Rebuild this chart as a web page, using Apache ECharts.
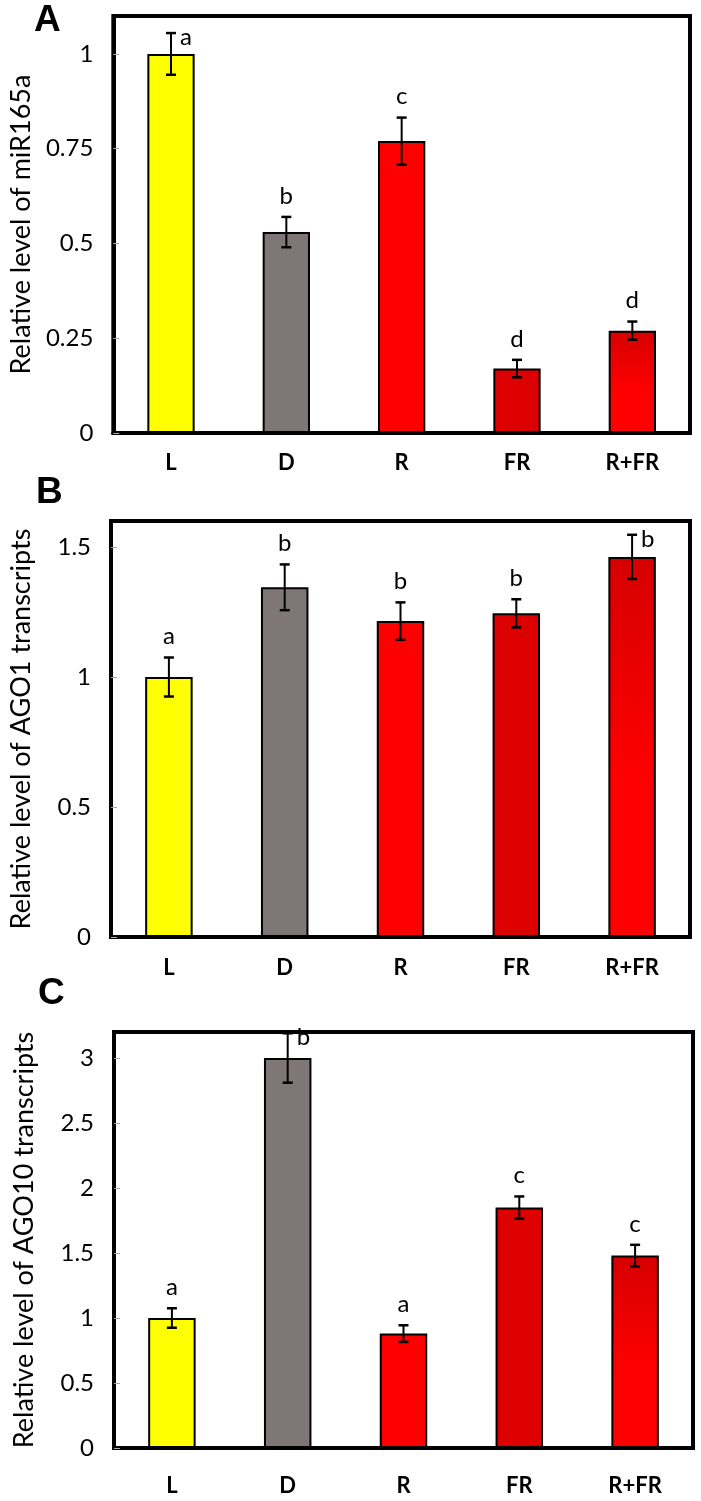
<!DOCTYPE html>
<html><head><meta charset="utf-8">
<script src="https://cdn.jsdelivr.net/npm/echarts@6/dist/echarts.min.js"></script>
<style>html,body{margin:0;padding:0;background:#fff}#c{width:701px;height:1501px}</style>
</head><body><div id="c"></div>
<script>
// ---- data ----
const categories = ['L', 'D', 'R', 'FR', 'R+FR'];

const miR165a = [1.0, 0.53, 0.77, 0.17, 0.27];
const miR165aErr = [0.055, 0.04, 0.062, 0.023, 0.024];
const miR165aLetters = ['a', 'b', 'c', 'd', 'd'];

const ago1 = [1.0, 1.345, 1.215, 1.245, 1.462];
const ago1Err = [0.075, 0.088, 0.072, 0.054, 0.085];
const ago1Letters = ['a', 'b', 'b', 'b', 'b'];

const ago10 = [1.0, 3.0, 0.88, 1.85, 1.48];
const ago10Err = [0.075, 0.19, 0.064, 0.085, 0.083];
const ago10Letters = ['a', 'b', 'a', 'c', 'c'];

const axisA = { min: 0, max: 1.1, interval: 0.25 };
const axisB = { min: 0, max: 1.6, interval: 0.5 };
const axisC = { min: 0, max: 3.2, interval: 0.5 };

const panelLetters = ['A', 'B', 'C'];
const yNames = ['Relative level of miR165a', 'Relative level of AGO1 transcripts', 'Relative level of AGO10 transcripts'];

// ---- styles ----
const redGrad = { type: 'linear', x: 0, y: 0, x2: 0, y2: 1, colorStops: [
  { offset: 0, color: '#D60000' }, { offset: 0.6, color: '#FF0000' }, { offset: 1, color: '#FF0000' }] };
const barColors = ['#FFFF00', '#7F7777', '#FF0000', '#DD0000', redGrad];
const FONT = 'Lato';

const panels = [
  { vals: miR165a, errs: miR165aErr, letters: miR165aLetters, rightIdx: [0], axis: axisA, xMargin: 19,
    grid: { left: 110, right: 11, top: 16, height: 417 }, title: { left: 34, top: 2 } },
  { vals: ago1, errs: ago1Err, letters: ago1Letters, rightIdx: [4], axis: axisB, xMargin: 20,
    grid: { left: 110, right: 11, top: 521, height: 416 }, title: { left: 36, top: 474 } },
  { vals: ago10, errs: ago10Err, letters: ago10Letters, rightIdx: [1], axis: axisC, xMargin: 27,
    grid: { left: 114, right: 8, top: 1032, height: 416 }, title: { left: 38, top: 975 } }
];

function makeRender(p) {
  return function (params, api) {
    const i = params.dataIndex;
    const v = p.vals[i], e = p.errs[i];
    const top = api.coord([i, v + e]);
    const bot = api.coord([i, v - e]);
    const x = top[0], cw = 5;
    const right = p.rightIdx.indexOf(i) >= 0;
    return {
      type: 'group',
      children: [
        { type: 'line', shape: { x1: x, y1: top[1], x2: x, y2: bot[1] }, style: { stroke: '#000', lineWidth: 2 } },
        { type: 'line', shape: { x1: x - cw, y1: top[1], x2: x + cw, y2: top[1] }, style: { stroke: '#000', lineWidth: 2.5 } },
        { type: 'line', shape: { x1: x - cw, y1: bot[1], x2: x + cw, y2: bot[1] }, style: { stroke: '#000', lineWidth: 2.5 } },
        { type: 'text', style: {
            text: p.letters[i],
            x: right ? x + 9 : x,
            y: right ? top[1] + 4 : top[1] - 9,
            align: right ? 'left' : 'center',
            verticalAlign: right ? 'middle' : 'bottom',
            fontSize: 24, fontFamily: FONT, fill: '#000' } }
      ]
    };
  };
}

const option = {
  animation: false,
  backgroundColor: '#fff',
  title: panels.map((p, k) => ({ text: panelLetters[k], left: p.title.left, top: p.title.top, padding: 0,
    textStyle: { fontFamily: 'Liberation Sans', fontWeight: 'bold', fontSize: 37, color: '#000' } })),
  grid: panels.map(p => Object.assign({ show: true, borderColor: '#000', borderWidth: 4, backgroundColor: '#fff' }, p.grid)),
  xAxis: panels.map((p, k) => ({
    type: 'category', gridIndex: k, data: categories,
    axisLine: { lineStyle: { color: '#000', width: 4 } },
    axisTick: { inside: true, length: 7, lineStyle: { color: '#666', width: 1 } },
    axisLabel: { margin: p.xMargin, fontFamily: FONT, fontWeight: 'bold', fontSize: 22, color: '#000' }
  })),
  yAxis: panels.map((p, k) => ({
    type: 'value', gridIndex: k, min: p.axis.min, max: p.axis.max, interval: p.axis.interval,
    name: yNames[k], nameLocation: 'middle', nameGap: 76,
    nameTextStyle: { fontFamily: FONT, fontSize: 27, color: '#000' },
    axisLine: { show: true, lineStyle: { color: '#000', width: 4 } },
    axisTick: { show: true, inside: true, length: 6, lineStyle: { color: '#aaa', width: 1 } },
    splitLine: { show: false },
    axisLabel: { showMaxLabel: false, margin: 20, fontFamily: FONT, fontSize: 24, color: '#000' }
  })),
  series: panels.flatMap((p, k) => [
    { type: 'bar', xAxisIndex: k, yAxisIndex: k, barWidth: '41%', z: 2,
      data: p.vals.map((v, i) => ({ value: v, itemStyle: { color: barColors[i], borderColor: '#000', borderWidth: 2 } })) },
    { type: 'custom', xAxisIndex: k, yAxisIndex: k, z: 3, clip: false,
      data: p.vals.map((v, i) => [i, v]), encode: { x: 0, y: 1 },
      renderItem: makeRender(p) }
  ])
};

const chart = echarts.init(document.getElementById('c'), null, { renderer: 'canvas' });
chart.setOption(option);
</script>
</body></html>
